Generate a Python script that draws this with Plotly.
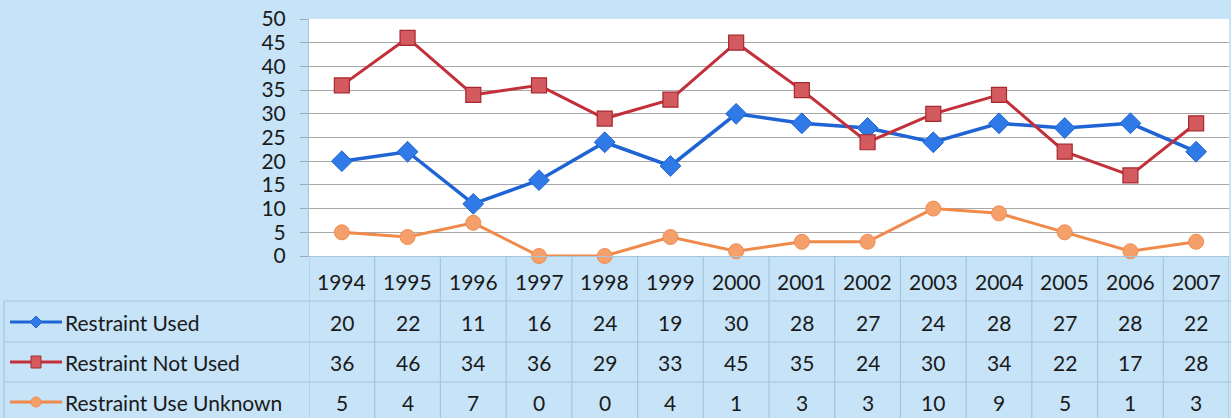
import plotly.graph_objects as go

years = [1994, 1995, 1996, 1997, 1998, 1999, 2000, 2001, 2002, 2003, 2004, 2005, 2006, 2007]
restraint_used = [20, 22, 11, 16, 24, 19, 30, 28, 27, 24, 28, 27, 28, 22]
restraint_not_used = [36, 46, 34, 36, 29, 33, 45, 35, 24, 30, 34, 22, 17, 28]
restraint_unknown = [5, 4, 7, 0, 0, 4, 1, 3, 3, 10, 9, 5, 1, 3]
series_names = ["Restraint Used", "Restraint Not Used", "Restraint Use Unknown"]
y_ticks = [0, 5, 10, 15, 20, 25, 30, 35, 40, 45, 50]

W, H = 1231, 418
BG = "#c6e3f7"
GRID_T = "#a3c6df"
FONT = "Lato"
TXT = "#1a1a1a"

styles = [
    dict(line=dict(color="#1f64d4", width=3.5),
         marker=dict(symbol="diamond", size=16, color="#2f7ae6", line=dict(color="#1f64d4", width=1))),
    dict(line=dict(color="#c3303a", width=3),
         marker=dict(symbol="square", size=15, color="#d35a5f", line=dict(color="#a8282f", width=1.2))),
    dict(line=dict(color="#f08a4b", width=3),
         marker=dict(symbol="circle", size=15, color="#f5a06b", line=dict(color="#ee8c52", width=1))),
]
data = [restraint_used, restraint_not_used, restraint_unknown]

fig = go.Figure()
for name, vals, st in zip(series_names, data, styles):
    fig.add_trace(go.Scatter(x=years, y=vals, mode="lines+markers", name=name,
                             line=st["line"], marker=st["marker"], showlegend=False,
                             cliponaxis=False))

def py(px):
    return 1 - px / H

def pxx(px):
    return px / W

row_year = 281
row_centers = [322, 362, 402]

annotations = []
for yv in years:
    annotations.append(dict(x=yv, y=py(row_year), xref="x", yref="paper", text=str(yv),
                            xanchor="center", yanchor="middle",
                            showarrow=False, font=dict(family=FONT, size=21, color=TXT)))
for vals, rc in zip(data, row_centers):
    for yv, v in zip(years, vals):
        annotations.append(dict(x=yv, y=py(rc), xref="x", yref="paper", text=str(v),
                                xanchor="center", yanchor="middle",
                                showarrow=False, font=dict(family=FONT, size=21, color=TXT)))
for name, rc in zip(series_names, row_centers):
    annotations.append(dict(x=pxx(63), y=py(rc), xref="paper", yref="paper", text=name,
                            xanchor="left", yanchor="middle", showarrow=False,
                            font=dict(family=FONT, size=21, color=TXT)))

shapes = []
for yy in [301, 342, 382]:
    shapes.append(dict(type="line", xref="paper", yref="paper", x0=pxx(4), x1=1,
                       y0=py(yy), y1=py(yy), line=dict(color=GRID_T, width=1.2)))
shapes.append(dict(type="line", xref="paper", yref="paper", x0=pxx(4), x1=pxx(4),
                   y0=py(301), y1=0, line=dict(color=GRID_T, width=1.2)))
for i in range(len(years) + 1):
    xb = years[0] - 0.5 + i
    shapes.append(dict(type="line", xref="x", yref="paper", x0=xb, x1=xb,
                       y0=py(256), y1=0, line=dict(color=GRID_T, width=1.2)))

# legend glyphs in the table
for k, (st, rc) in enumerate(zip(styles, row_centers)):
    c = st["line"]["color"]
    shapes.append(dict(type="line", xref="paper", yref="paper", x0=pxx(10), x1=pxx(62),
                       y0=py(rc), y1=py(rc), line=dict(color=c, width=3)))
    fill = st["marker"]["color"]
    if k == 0:
        path = "M {},{} L {},{} L {},{} L {},{} Z".format(
            pxx(36), py(rc - 6), pxx(42), py(rc), pxx(36), py(rc + 6), pxx(30), py(rc))
        shapes.append(dict(type="path", xref="paper", yref="paper", path=path,
                           fillcolor=fill, line=dict(color=c, width=1)))
    elif k == 1:
        shapes.append(dict(type="rect", xref="paper", yref="paper", x0=pxx(31), x1=pxx(41),
                           y0=py(rc + 6), y1=py(rc - 6), fillcolor=fill,
                           line=dict(color="#a8282f", width=1)))
    else:
        shapes.append(dict(type="circle", xref="paper", yref="paper", x0=pxx(31), x1=pxx(41),
                           y0=py(rc + 5), y1=py(rc - 5), fillcolor=fill,
                           line=dict(color=c, width=1)))

fig.update_layout(
    width=W, height=H,
    margin=dict(l=0, r=0, t=0, b=0),
    paper_bgcolor=BG, plot_bgcolor="white",
    xaxis=dict(domain=[pxx(309), pxx(1229)], range=[years[0] - 0.5, years[-1] + 0.5],
               showticklabels=False, showgrid=False, zeroline=False, ticks="",
               automargin=False, showline=True, linecolor=GRID_T, linewidth=1.2),
    yaxis=dict(domain=[py(256), py(19)], range=[0, 50], tickvals=y_ticks,
               showgrid=True, gridcolor="#a8a8a8", gridwidth=1, zeroline=False,
               showline=True, linecolor="#a9c4da", linewidth=1,
               ticks="outside", ticklen=8, tickcolor="#a8a8a8",
               ticklabelstandoff=10, automargin=False,
               tickfont=dict(family=FONT, size=21, color=TXT)),
    annotations=annotations,
    shapes=shapes,
)
fig.write_html("out.html", config={"displayModeBar": False},
               post_script="document.body.style.margin='0';document.body.style.overflow='hidden';")
